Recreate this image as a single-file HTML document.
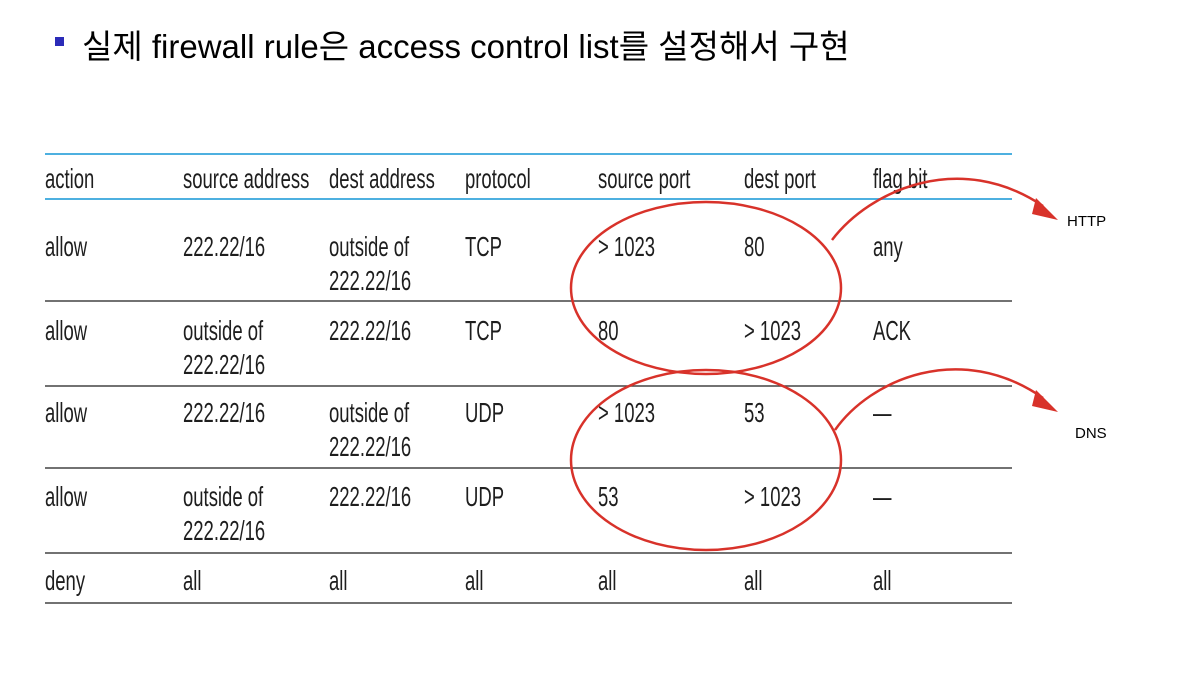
<!DOCTYPE html>
<html><head><meta charset="utf-8">
<style>
body{margin:0;width:1180px;height:688px;background:#fff;position:relative;overflow:hidden;font-family:"Liberation Sans","Noto Sans CJK KR",sans-serif}
.t{position:absolute;font-size:28px;color:#1e1e1e;transform:scaleX(0.66);transform-origin:0 0;white-space:nowrap;line-height:34px}
</style></head><body>
<div style="position:absolute;left:55px;top:37px;width:9px;height:9px;background:#2b2bb8"></div>
<div style="position:absolute;left:82px;top:20px;font-size:33px;color:#000;white-space:nowrap">실제 firewall rule은 access control list를 설정해서 구현</div>
<svg width="1180" height="688" style="position:absolute;left:0;top:0">
<line x1="45" y1="154" x2="1012" y2="154" stroke="#4db0e0" stroke-width="2"/>
<line x1="45" y1="199" x2="1012" y2="199" stroke="#4db0e0" stroke-width="2"/>
<g stroke="#444" stroke-width="1.5">
<line x1="45" y1="301" x2="1012" y2="301"/>
<line x1="45" y1="386" x2="1012" y2="386"/>
<line x1="45" y1="468" x2="1012" y2="468"/>
<line x1="45" y1="553" x2="1012" y2="553"/>
<line x1="45" y1="603" x2="1012" y2="603"/>
</g>
</svg>
<div>
<div class="t" style="left:45px;top:162px">action</div>
<div class="t" style="left:183px;top:162px">source address</div>
<div class="t" style="left:329px;top:162px">dest address</div>
<div class="t" style="left:465px;top:162px">protocol</div>
<div class="t" style="left:598px;top:162px">source port</div>
<div class="t" style="left:744px;top:162px">dest port</div>
<div class="t" style="left:873px;top:162px">flag bit</div>

<div class="t" style="left:45px;top:230px">allow</div>
<div class="t" style="left:183px;top:230px">222.22/16</div>
<div class="t" style="left:329px;top:230px">outside of<br>222.22/16</div>
<div class="t" style="left:465px;top:230px">TCP</div>
<div class="t" style="left:598px;top:230px">&gt; 1023</div>
<div class="t" style="left:744px;top:230px">80</div>
<div class="t" style="left:873px;top:230px">any</div>

<div class="t" style="left:45px;top:314px">allow</div>
<div class="t" style="left:183px;top:314px">outside of<br>222.22/16</div>
<div class="t" style="left:329px;top:314px">222.22/16</div>
<div class="t" style="left:465px;top:314px">TCP</div>
<div class="t" style="left:598px;top:314px">80</div>
<div class="t" style="left:744px;top:314px">&gt; 1023</div>
<div class="t" style="left:873px;top:314px">ACK</div>

<div class="t" style="left:45px;top:396px">allow</div>
<div class="t" style="left:183px;top:396px">222.22/16</div>
<div class="t" style="left:329px;top:396px">outside of<br>222.22/16</div>
<div class="t" style="left:465px;top:396px">UDP</div>
<div class="t" style="left:598px;top:396px">&gt; 1023</div>
<div class="t" style="left:744px;top:396px">53</div>
<div class="t" style="left:873px;top:396px">—</div>

<div class="t" style="left:45px;top:480px">allow</div>
<div class="t" style="left:183px;top:480px">outside of<br>222.22/16</div>
<div class="t" style="left:329px;top:480px">222.22/16</div>
<div class="t" style="left:465px;top:480px">UDP</div>
<div class="t" style="left:598px;top:480px">53</div>
<div class="t" style="left:744px;top:480px">&gt; 1023</div>
<div class="t" style="left:873px;top:480px">—</div>

<div class="t" style="left:45px;top:564px">deny</div>
<div class="t" style="left:183px;top:564px">all</div>
<div class="t" style="left:329px;top:564px">all</div>
<div class="t" style="left:465px;top:564px">all</div>
<div class="t" style="left:598px;top:564px">all</div>
<div class="t" style="left:744px;top:564px">all</div>
<div class="t" style="left:873px;top:564px">all</div>
</div>
<svg width="1180" height="688" style="position:absolute;left:0;top:0">
<g fill="none" stroke="#d8322a" stroke-width="2.5">
<ellipse cx="706" cy="288" rx="135" ry="86"/>
<ellipse cx="706" cy="460" rx="135" ry="90"/>
<path d="M832 240 C870 190,960 150,1043 206"/>
<path d="M835 430 C870 380,960 340,1043 398"/>
</g>
<polygon points="1036,198 1058,220 1032,214" fill="#d8322a"/>
<polygon points="1036,390 1058,412 1032,406" fill="#d8322a"/>
<text x="1067" y="226" font-size="15" font-family="Liberation Sans,sans-serif">HTTP</text>
<text x="1075" y="438" font-size="15" font-family="Liberation Sans,sans-serif">DNS</text>
</svg>
</body></html>
